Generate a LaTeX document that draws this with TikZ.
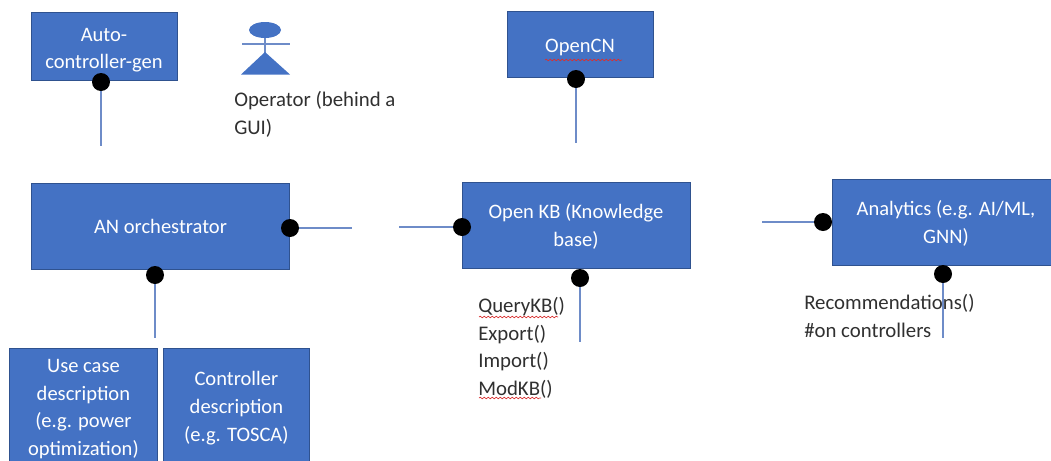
\documentclass[tikz,border=0pt]{standalone}
\usepackage{fontspec}
\setmainfont{Carlito}
\usetikzlibrary{decorations.pathmorphing}
\definecolor{boxblue}{HTML}{4472C4}
\definecolor{boxedge}{HTML}{2F528F}
\definecolor{linkblue}{HTML}{6E8CC8}
\definecolor{inkgrey}{HTML}{303030}
\definecolor{squig}{HTML}{D83030}
\newcommand{\lowertext}[1]{\rule{0pt}{#1}}
\tikzset{
  x=0.75pt,y=-0.75pt,
  bluebox/.style={draw=boxedge,line width=0.6pt,fill=boxblue,text=white,align=flush center,inner sep=1pt,font=\fontsize{15.4pt}{20.8pt}\selectfont},
  pindot/.style={circle,fill=black,draw=none,minimum size=13.5pt,inner sep=0pt},
  link/.style={draw=linkblue,line width=1pt},
  plainlabel/.style={text=inkgrey,align=flush left,anchor=north west,inner sep=0pt,font=\fontsize{15.6pt}{20.8pt}\selectfont},
  squiggle/.style={draw=squig,line width=0.5pt,decorate,decoration={snake,amplitude=0.6pt,segment length=3pt}}
}
\begin{document}
\begin{tikzpicture}
\useasboundingbox (0,0) rectangle (1051,461);
% boxes
\node[bluebox,minimum width=109.5pt,minimum height=51pt,text width=106pt] (autogen) at (104,46) {\lowertext{16pt}Auto-\\controller-gen};
\node[bluebox,minimum width=109.5pt,minimum height=50pt,text width=104pt] (opencn) at (580,44.5) {\lowertext{14.5pt}OpenCN};
\node[bluebox,minimum width=194pt,minimum height=65pt,text width=185pt] (orch) at (160.5,226.5) {AN orchestrator};
\node[bluebox,minimum width=171pt,minimum height=64.5pt,text width=160pt] (kb) at (576,225) {\lowertext{13pt}Open KB (Knowledge\\base)};
\node[bluebox,minimum width=170pt,minimum height=64.5pt,text width=162pt] (analytics) at (946,222) {\lowertext{13pt}Analytics (e.g. AI/ML,\\GNN)};
\begin{scope}
\clip (0,0) rectangle (1051,461);
\node[bluebox,minimum width=111pt,minimum height=87pt,text width=108pt,anchor=north west] (usecase) at (9,348) {\lowertext{14pt}Use case\\description\\(e.g. power\\optimization)};
\node[bluebox,minimum width=109.5pt,minimum height=87pt,text width=106pt,anchor=north west] (ctrl) at (163,348) {\lowertext{13pt}Controller\\description\\(e.g. TOSCA)};
\end{scope}
% pins
\node[pindot] (pa) at (101,82) {};
\node[pindot] (pc) at (576,79) {};
\node[pindot] (po) at (290,228) {};
\node[pindot] (pk) at (462,227) {};
\node[pindot] (pd) at (155,275) {};
\node[pindot] (pq) at (580,278) {};
\node[pindot] (pl) at (823,222) {};
\node[pindot] (pr) at (943,274) {};
% free ends
\coordinate (ea) at (101,146);
\coordinate (ec) at (576,143);
\coordinate (eo) at (352,228);
\coordinate (ek) at (399,227);
\coordinate (ed) at (155,338);
\coordinate (eq) at (580,342);
\coordinate (el) at (762,222);
\coordinate (er) at (943,338);
\draw[link] (pa) -- (ea);
\draw[link] (pc) -- (ec);
\draw[link] (po) -- (eo);
\draw[link] (ek) -- (pk);
\draw[link] (pd) -- (ed);
\draw[link] (pq) -- (eq);
\draw[link] (el) -- (pl);
\draw[link] (pr) -- (er);
% operator figure
\fill[boxblue] (265,30) ellipse [x radius=16,y radius=8];
\draw[link] (242,44) -- (290,44);
\draw[link] (265,38) -- (265,53);
\fill[boxblue] (241,74.5) -- (290,74.5) -- (265,52) -- cycle;
% labels
\node[plainlabel] (oplabel) at (234,91) {Operator (behind a\\GUI)};
\node[plainlabel] (kbapi) at (478,297) {QueryKB()\\Export()\\Import()\\ModKB()};
\node[plainlabel] (recs) at (804,294) {Recommendations()\\\#on controllers};
% spell-check squiggles
\draw[squiggle] (545,60) -- (622,60);
\draw[squiggle] (479,317) -- (558,317);
\draw[squiggle] (479,398) -- (541,398);
\end{tikzpicture}
\end{document}
